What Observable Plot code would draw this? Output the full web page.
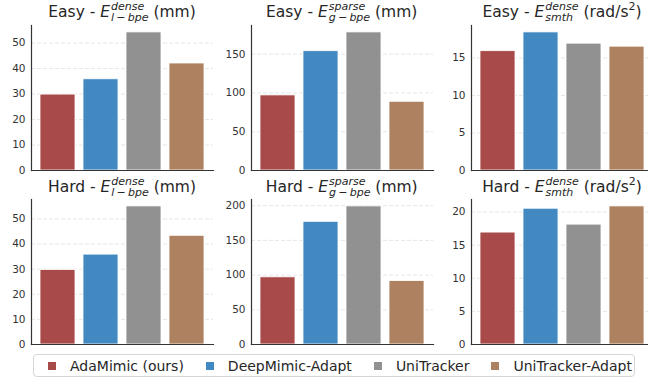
<!DOCTYPE html>
<html><head><meta charset="utf-8">
<script src="https://cdn.jsdelivr.net/npm/d3@7"></script>
<script src="https://cdn.jsdelivr.net/npm/@observablehq/plot@0.6"></script>
<style>
html,body{margin:0;padding:0;background:#fff;}
#chart{position:relative;width:648px;height:381px;overflow:hidden;font-family:"DejaVu Sans",sans-serif;color:#262626;}
.title{position:absolute;width:182px;text-align:center;font-size:15.5px;line-height:15.5px;white-space:nowrap;}
.stack{display:inline-block;vertical-align:-4.5px;font-size:11px;line-height:11px;font-style:italic;text-align:left;margin-left:1px;}
.stack span{display:block;}
.pw{font-size:11px;line-height:11px;vertical-align:6.5px;}
.legend{position:absolute;left:33px;top:354px;width:602px;height:23px;border:1px solid #d6d6d6;border-radius:4px;background:#fff;display:flex;align-items:center;padding-left:14px;box-sizing:border-box;gap:22px;font-size:14px;}
.item{display:flex;align-items:center;white-space:nowrap;}
.sw{width:8px;height:8px;margin-right:14px;}
</style></head><body><div id="chart"></div>
<script>
// ---- data ----
const methods = ["AdaMimic (ours)", "DeepMimic-Adapt", "UniTracker", "UniTracker-Adapt"];
const colors = ["#a84a4a", "#4289c1", "#919191", "#ae8260"];
const levels = ["Easy", "Hard"];
const metricSup = ["dense", "sparse", "dense"];
const metricSub = ["l\u2009\u2212\u2009bpe", "g\u2009\u2212\u2009bpe", "smth"];
const units = ["mm", "mm", "rad/s^2"];
const easyLbpe = [29.8, 35.8, 54.2, 42.0];
const easyGbpe = [96.8, 153.8, 178.0, 88.6];
const easySmth = [15.9, 18.4, 16.9, 16.5];
const hardLbpe = [29.7, 35.8, 55.0, 43.3];
const hardGbpe = [96.8, 176.8, 199.0, 91.5];
const hardSmth = [16.9, 20.5, 18.1, 20.85];
const ticksLbpe = [0, 10, 20, 30, 40, 50];
const ticksGbpeEasy = [0, 50, 100, 150];
const ticksSmthEasy = [0, 5, 10, 15];
const ticksGbpeHard = [0, 50, 100, 150, 200];
const ticksSmthHard = [0, 5, 10, 15, 20];

const panelValues = [[easyLbpe, easyGbpe, easySmth], [hardLbpe, hardGbpe, hardSmth]];
const panelTicks = [[ticksLbpe, ticksGbpeEasy, ticksSmthEasy], [ticksLbpe, ticksGbpeHard, ticksSmthHard]];

// ---- layout ----
const axisX = [31, 250.7, 471];
const axisTop = [25, 199.3];
const titleBase = [17.3, 191.7];
const AW = 182, AH = 145;
const ML = 40, MR = 2, MT = 4, MB = 4;

const chart = document.getElementById("chart");

levels.forEach((level, r) => {
  for (let c = 0; c < 3; c++) {
    const values = panelValues[r][c];
    const ticks = panelTicks[r][c];
    const rows = methods.map((m, i) => ({method: m, value: values[i]}));
    const svg = Plot.plot({
      width: ML + AW + MR, height: MT + AH + MB,
      marginLeft: ML, marginRight: MR, marginTop: MT, marginBottom: MB,
      x: {type: "band", domain: methods, padding: 0.184, axis: null},
      y: {domain: [0, d3.max(values) * 1.05], axis: null},
      color: {domain: methods, range: colors},
      style: {fontFamily: "DejaVu Sans", fontSize: "10.5px", color: "#333", background: "transparent", overflow: "visible"},
      marks: [
        Plot.gridY(ticks.filter(t => t > 0), {stroke: "#e0e0e0", strokeOpacity: 1, strokeDasharray: "4,2", strokeWidth: 0.8}),
        Plot.barY(rows, {x: "method", y: "value", fill: "method", stroke: "#fff", strokeWidth: 0.8}),
        Plot.axisY(ticks, {tickSize: 0, tickPadding: 6, label: null}),
        Plot.frame({anchor: "left", stroke: "#333", strokeWidth: 1.2}),
        Plot.frame({anchor: "bottom", stroke: "#333", strokeWidth: 1.2})
      ]
    });
    svg.style.position = "absolute";
    svg.style.left = (axisX[c] - ML) + "px";
    svg.style.top = (axisTop[r] - MT) + "px";
    chart.appendChild(svg);

    const t = document.createElement("div");
    t.className = "title";
    t.style.left = axisX[c] + "px";
    t.style.top = (titleBase[r] - 15.81) + "px";
    const unitHtml = units[c].replace("^2", '<span class="pw">2</span>');
    t.innerHTML = `${level} - <i>E</i><span class="stack"><span>${metricSup[c]}</span><span>${metricSub[c]}</span></span> (${unitHtml})`;
    chart.appendChild(t);
  }
});

const legend = document.createElement("div");
legend.className = "legend";
methods.forEach((m, i) => {
  const it = document.createElement("div");
  it.className = "item";
  const sw = document.createElement("span");
  sw.className = "sw";
  sw.style.background = colors[i];
  const tx = document.createElement("span");
  tx.textContent = m;
  it.appendChild(sw); it.appendChild(tx);
  legend.appendChild(it);
});
chart.appendChild(legend);
</script></body></html>
